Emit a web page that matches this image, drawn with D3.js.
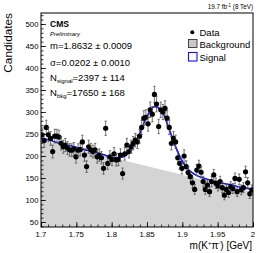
<!DOCTYPE html>
<html>
<head>
<meta charset="utf-8">
<script src="https://cdn.jsdelivr.net/npm/d3@7"></script>
<style>
  body { margin: 0; background: #fff; }
  svg { display: block; font-family: "Liberation Sans", Arial, sans-serif; }
</style>
</head>
<body>
<svg id="chart" width="266" height="253"></svg>
<script>
// candidates per 3 MeV bin, 1.700 - 2.000 GeV
const counts = [
  248, 235, 265, 248, 240, 210, 245, 245, 243, 229,
  221, 225, 218, 214, 213, 216, 198, 213, 215, 232,
  202, 176, 221, 214, 210, 214, 198, 202, 196, 172,
  263, 183, 198, 192, 205, 191, 192, 202, 160, 205,
  225, 210, 221, 229, 236, 232, 245, 265, 286, 288,
  273, 305, 295, 340, 318, 267, 305, 300, 308, 286,
  265, 229, 240, 232, 196, 183, 172, 200, 176, 162,
  153, 139, 124, 168, 177, 163, 142, 124, 134, 119,
  142, 157, 138, 132, 142, 128, 111, 124, 117, 130,
  126, 149, 119, 147, 123, 128, 164, 139, 114, 123
];
const binLow = 1.7;
const binWidth = 0.003;

// fit curve (total)
const fitMass = [1.70, 1.71, 1.72, 1.73, 1.74, 1.75, 1.76, 1.77, 1.78, 1.79,
                 1.80, 1.81, 1.82, 1.83, 1.84, 1.85, 1.86, 1.87, 1.88, 1.89,
                 1.90, 1.91, 1.92, 1.93, 1.94, 1.95, 1.96, 1.97, 1.98, 1.99, 2.00];
const fitTotal = [241, 237, 232, 228, 224, 220, 215, 211, 207, 202,
                  197, 196, 201, 219, 252, 290, 312, 304, 267, 223,
                  188, 167, 156, 150, 145, 141, 137, 134, 130, 127, 124];

// background component
const bkgMass = [1.7, 2.0];
const bkgValue = [236, 118];

const xTicks = [1.7, 1.75, 1.8, 1.85, 1.9, 1.95, 2];
const yTicks = [50, 100, 150, 200, 250, 300, 350, 400, 450, 500];

const svg = d3.select('#chart');
const pLeft = 41, pRight = 253, pTop = 13, pBottom = 227;

const x = d3.scaleLinear().domain([1.7, 2.0]).range([pLeft, pRight]);
const y = d3.scaleLinear().domain([38.6, 525]).range([pBottom, pTop]);

svg.append('defs').append('clipPath').attr('id', 'clip')
  .append('rect').attr('x', pLeft).attr('y', pTop)
  .attr('width', pRight - pLeft).attr('height', pBottom - pTop);

const plot = svg.append('g').attr('clip-path', 'url(#clip)');

// background area
const bkg = bkgMass.map((m, i) => ({ m: m, v: bkgValue[i] }));
plot.append('path')
  .datum(bkg)
  .attr('fill', '#d4d4d4')
  .attr('d', d3.area().x(d => x(d.m)).y0(pBottom).y1(d => y(d.v)));

// fit line
const fit = fitMass.map((m, i) => ({ m: m, v: fitTotal[i] }));
plot.append('path')
  .datum(fit)
  .attr('fill', 'none')
  .attr('stroke', '#1010f0')
  .attr('stroke-width', 1.6)
  .attr('d', d3.line().x(d => x(d.m)).y(d => y(d.v)).curve(d3.curveCatmullRom));

// data points
const data = counts.map((c, i) => ({ m: binLow + binWidth * (i + 0.5), v: c, e: Math.sqrt(c) }));
const pts = plot.selectAll('g.pt').data(data).enter().append('g').attr('class', 'pt');
pts.append('line')
  .attr('x1', d => x(d.m)).attr('x2', d => x(d.m))
  .attr('y1', d => y(d.v - d.e)).attr('y2', d => y(d.v + d.e))
  .attr('stroke', '#555').attr('stroke-width', 0.8);
pts.append('line')
  .attr('x1', d => x(d.m) - 1.2).attr('x2', d => x(d.m) + 1.2)
  .attr('y1', d => y(d.v + d.e)).attr('y2', d => y(d.v + d.e))
  .attr('stroke', '#555').attr('stroke-width', 0.8);
pts.append('line')
  .attr('x1', d => x(d.m) - 1.2).attr('x2', d => x(d.m) + 1.2)
  .attr('y1', d => y(d.v - d.e)).attr('y2', d => y(d.v - d.e))
  .attr('stroke', '#555').attr('stroke-width', 0.8);
pts.append('circle')
  .attr('cx', d => x(d.m)).attr('cy', d => y(d.v))
  .attr('r', 2.6).attr('fill', '#000');

// axes (ROOT style ticks inside)
const xMinor = svg.append('g').attr('transform', `translate(0,${pBottom})`)
  .call(d3.axisTop(x).tickValues(d3.range(1.7, 2.0001, 0.01)).tickSize(2.5).tickFormat(''));
const xMajor = svg.append('g').attr('transform', `translate(0,${pBottom})`)
  .call(d3.axisTop(x).tickValues(xTicks).tickSize(5).tickFormat(''));
const yMinor = svg.append('g').attr('transform', `translate(${pLeft},0)`)
  .call(d3.axisRight(y).tickValues(d3.range(40, 521, 10)).tickSize(2.5).tickFormat(''));
const yMajor = svg.append('g').attr('transform', `translate(${pLeft},0)`)
  .call(d3.axisRight(y).tickValues(yTicks).tickSize(5).tickFormat(''));
[xMinor, xMajor, yMinor, yMajor].forEach(g => {
  g.select('.domain').remove();
  g.selectAll('line').attr('stroke', '#000').attr('stroke-width', 0.8);
});

// frame
svg.append('rect')
  .attr('x', pLeft).attr('y', pTop)
  .attr('width', pRight - pLeft).attr('height', pBottom - pTop)
  .attr('fill', 'none').attr('stroke', '#000').attr('stroke-width', 1);

// tick labels
svg.append('g').selectAll('text').data(xTicks).enter().append('text')
  .attr('x', d => x(d)).attr('y', 237)
  .attr('text-anchor', 'middle').attr('font-size', 7.8)
  .text(d => String(+d.toFixed(2)));
svg.append('g').selectAll('text').data(yTicks).enter().append('text')
  .attr('x', 38.5).attr('y', d => y(d) + 2.8)
  .attr('text-anchor', 'end').attr('font-size', 7.8)
  .text(d => d);

// axis titles
svg.append('text')
  .attr('transform', 'translate(11.5,13) rotate(-90)')
  .attr('text-anchor', 'end').attr('font-size', 11.8)
  .text('Candidates');
const xt = svg.append('text')
  .attr('x', 252).attr('y', 249)
  .attr('text-anchor', 'end').attr('font-size', 10);
xt.append('tspan').text('m(K');
xt.append('tspan').attr('font-size', 6).attr('dy', -4).text('+');
xt.append('tspan').attr('dy', 4).text('π');
xt.append('tspan').attr('font-size', 6).attr('dy', -4).text('-');
xt.append('tspan').attr('dy', 4).text(') [GeV]');

// lumi label
const lumi = svg.append('text').attr('x', 253).attr('y', 9)
  .attr('text-anchor', 'end').attr('font-size', 6.3);
lumi.append('tspan').text('19.7 fb');
lumi.append('tspan').attr('font-size', 4.5).attr('dy', -2.5).text('-1');
lumi.append('tspan').attr('dy', 2.5).text(' (8 TeV)');

// fit results
svg.append('text').attr('x', 50).attr('y', 27)
  .attr('font-size', 8.5).attr('font-weight', 'bold').text('CMS');
svg.append('text').attr('x', 50).attr('y', 36)
  .attr('font-size', 6).attr('font-style', 'italic').text('Preliminary');
svg.append('text').attr('x', 50).attr('y', 49)
  .attr('font-size', 9.5).text('m=1.8632 ± 0.0009');
svg.append('text').attr('x', 50).attr('y', 66)
  .attr('font-size', 9.5).text('σ=0.0202 ± 0.0010');
const ns = svg.append('text').attr('x', 50).attr('y', 81).attr('font-size', 9.5);
ns.append('tspan').text('N');
ns.append('tspan').attr('font-size', 6).attr('dy', 2).text('signal');
ns.append('tspan').attr('dy', -2).text('=2397 ± 114');
const nb = svg.append('text').attr('x', 50).attr('y', 96).attr('font-size', 9.5);
nb.append('tspan').text('N');
nb.append('tspan').attr('font-size', 6).attr('dy', 2).text('bkg');
nb.append('tspan').attr('dy', -2).text('=17650 ± 168');

// legend
svg.append('circle').attr('cx', 192.3).attr('cy', 32.3).attr('r', 2).attr('fill', '#000');
svg.append('text').attr('x', 199.5).attr('y', 35.5).attr('font-size', 9.5).text('Data');
svg.append('rect').attr('x', 188.5).attr('y', 39.5).attr('width', 8.5).attr('height', 8)
  .attr('fill', '#c8c8c8').attr('stroke', '#333').attr('stroke-width', 0.9);
svg.append('text').attr('x', 199.5).attr('y', 47.5).attr('font-size', 9.5).text('Background');
svg.append('rect').attr('x', 188.5).attr('y', 52.5).attr('width', 8.5).attr('height', 8.5)
  .attr('fill', '#fff').attr('stroke', '#1010f0').attr('stroke-width', 1.1);
svg.append('text').attr('x', 199.5).attr('y', 60.5).attr('font-size', 9.5).text('Signal');
</script>
</body>
</html>
